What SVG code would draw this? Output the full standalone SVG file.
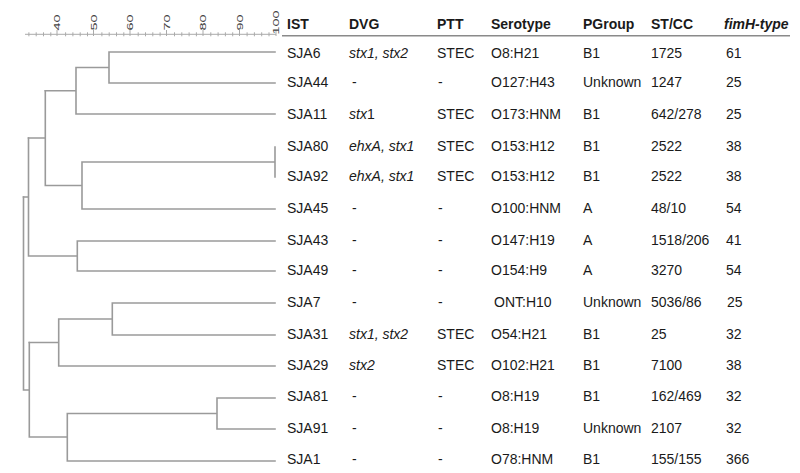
<svg xmlns="http://www.w3.org/2000/svg" width="800" height="473" viewBox="0 0 800 473">
<style>
  text { font-family: "Liberation Sans", Arial, sans-serif; font-size: 14px; fill: #1a1a1a; }
  .hd { font-weight: bold; }
  .it { font-style: italic; }
  .ax { font-size: 8.5px; fill: #444; }
  .tree { stroke: #9a9a9a; stroke-width: 1.6; fill: none; stroke-linecap: square; }
  .axis { stroke: #aaa; stroke-width: 1; fill: none; }
  .hline { stroke: #8a8a8a; stroke-width: 1.4; }
</style>
<rect width="800" height="473" fill="#fff"/>

<g id="scale">
  <line class="axis" x1="25" y1="34.3" x2="276" y2="34.3"/>
  <path class="axis" d="M28.9 32.3v4M36.2 32.3v4M43.5 32.3v4M50.8 32.3v4M65.6 32.3v4M72.9 32.3v4M80.2 32.3v4M87.5 32.3v4M101.9 32.3v4M109.2 32.3v4M116.5 32.3v4M123.8 32.3v4M138.2 32.3v4M145.5 32.3v4M152.8 32.3v4M160.1 32.3v4M174.5 32.3v4M181.8 32.3v4M189.1 32.3v4M196.4 32.3v4M210.8 32.3v4M218.1 32.3v4M225.4 32.3v4M232.7 32.3v4M247.1 32.3v4M254.4 32.3v4M261.7 32.3v4M269 32.3v4"/>
  <path class="axis" d="M57 30v6M93.5 30v6M130 30v6M166.5 30v6M203 30v6M239.5 30v6M276 30v6"/>
  <text class="ax" text-anchor="middle" transform="translate(60,22.5) rotate(-90) scale(1.7,1)">40</text>
  <text class="ax" text-anchor="middle" transform="translate(96.5,22.5) rotate(-90) scale(1.7,1)">50</text>
  <text class="ax" text-anchor="middle" transform="translate(133,22.5) rotate(-90) scale(1.7,1)">60</text>
  <text class="ax" text-anchor="middle" transform="translate(169.5,22.5) rotate(-90) scale(1.7,1)">70</text>
  <text class="ax" text-anchor="middle" transform="translate(206,22.5) rotate(-90) scale(1.7,1)">80</text>
  <text class="ax" text-anchor="middle" transform="translate(242.5,22.5) rotate(-90) scale(1.7,1)">90</text>
  <text class="ax" text-anchor="middle" transform="translate(279,22.5) rotate(-90) scale(1.7,1)">100</text>
</g>

<g id="connectors">
  <path class="tree" d="M109 52H275M109 83H275M109 52V83M76 67.5H109M76 114H275M76 67.5V114M45.3 90.75H76"/>
  <path class="tree" d="M275 147V177M82 162H275M82 209H275M82 162V209M45.3 185.5H82M45.3 90.75V185.5M28.5 138H45.3"/>
  <path class="tree" d="M77.3 241H275M77.3 271H275M77.3 241V271M28.5 256H77.3M28.5 138V256M23.5 197H28.5"/>
  <path class="tree" d="M112.3 303H275M112.3 335H275M112.3 303V335M58.7 319H112.3M58.7 366H275M58.7 319V366M29.3 342.5H58.7"/>
  <path class="tree" d="M217 398H275M217 429H275M217 398V429M67.3 413.5H217M67.3 461H275M67.3 413.5V461M29.3 437H67.3M29.3 342.5V437M23.5 390H29.3M23.5 197V390"/>
</g>

<g id="header">
  <text class="hd" x="287" y="29">IST</text>
  <text class="hd" x="349" y="29">DVG</text>
  <text class="hd" x="437" y="29">PTT</text>
  <text class="hd" x="491" y="29">Serotype</text>
  <text class="hd" x="583" y="29">PGroup</text>
  <text class="hd" x="651" y="29">ST/CC</text>
  <text class="hd it" x="724" y="29">fimH-type</text>
  <line class="hline" x1="282" y1="35.7" x2="790" y2="35.7"/>
</g>

<g id="row-SJA6"><text x="287" y="58">SJA6</text><text class="it" x="349" y="58">stx1, stx2</text><text x="437" y="58">STEC</text><text x="491" y="58">O8:H21</text><text x="583" y="58">B1</text><text x="651" y="58">1725</text><text x="726" y="58">61</text></g>
<g id="row-SJA44"><text x="287" y="87">SJA44</text><text x="352" y="87">-</text><text x="438" y="87">-</text><text x="491" y="87">O127:H43</text><text x="583" y="87">Unknown</text><text x="651" y="87">1247</text><text x="726" y="87">25</text></g>
<g id="row-SJA11"><text x="287" y="118.5">SJA11</text><text x="349" y="118.5"><tspan class="it">stx</tspan>1</text><text x="437" y="118.5">STEC</text><text x="491" y="118.5">O173:HNM</text><text x="583" y="118.5">B1</text><text x="651" y="118.5">642/278</text><text x="726" y="118.5">25</text></g>
<g id="row-SJA80"><text x="287" y="151">SJA80</text><text class="it" x="349" y="151">ehxA, stx1</text><text x="437" y="151">STEC</text><text x="491" y="151">O153:H12</text><text x="583" y="151">B1</text><text x="651" y="151">2522</text><text x="726" y="151">38</text></g>
<g id="row-SJA92"><text x="287" y="181">SJA92</text><text class="it" x="349" y="181">ehxA, stx1</text><text x="437" y="181">STEC</text><text x="491" y="181">O153:H12</text><text x="583" y="181">B1</text><text x="651" y="181">2522</text><text x="726" y="181">38</text></g>
<g id="row-SJA45"><text x="287" y="213">SJA45</text><text x="352" y="213">-</text><text x="438" y="213">-</text><text x="491" y="213">O100:HNM</text><text x="583" y="213">A</text><text x="651" y="213">48/10</text><text x="726" y="213">54</text></g>
<g id="row-SJA43"><text x="287" y="245">SJA43</text><text x="352" y="245">-</text><text x="438" y="245">-</text><text x="491" y="245">O147:H19</text><text x="583" y="245">A</text><text x="651" y="245">1518/206</text><text x="726" y="245">41</text></g>
<g id="row-SJA49"><text x="287" y="275">SJA49</text><text x="352" y="275">-</text><text x="438" y="275">-</text><text x="491" y="275">O154:H9</text><text x="583" y="275">A</text><text x="651" y="275">3270</text><text x="726" y="275">54</text></g>
<g id="row-SJA7"><text x="287" y="307">SJA7</text><text x="352" y="307">-</text><text x="438" y="307">-</text><text x="494" y="307">ONT:H10</text><text x="583" y="307">Unknown</text><text x="651" y="307">5036/86</text><text x="727" y="307">25</text></g>
<g id="row-SJA31"><text x="287" y="339">SJA31</text><text class="it" x="349" y="339">stx1, stx2</text><text x="437" y="339">STEC</text><text x="491" y="339">O54:H21</text><text x="583" y="339">B1</text><text x="651" y="339">25</text><text x="726" y="339">32</text></g>
<g id="row-SJA29"><text x="287" y="370">SJA29</text><text class="it" x="349" y="370">stx2</text><text x="437" y="370">STEC</text><text x="491" y="370">O102:H21</text><text x="583" y="370">B1</text><text x="651" y="370">7100</text><text x="726" y="370">38</text></g>
<g id="row-SJA81"><text x="287" y="401">SJA81</text><text x="352" y="401">-</text><text x="438" y="401">-</text><text x="491" y="401">O8:H19</text><text x="583" y="401">B1</text><text x="651" y="401">162/469</text><text x="726" y="401">32</text></g>
<g id="row-SJA91"><text x="287" y="433">SJA91</text><text x="352" y="433">-</text><text x="438" y="433">-</text><text x="491" y="433">O8:H19</text><text x="583" y="433">Unknown</text><text x="651" y="433">2107</text><text x="726" y="433">32</text></g>
<g id="row-SJA1"><text x="287" y="464">SJA1</text><text x="352" y="464">-</text><text x="438" y="464">-</text><text x="491" y="464">O78:HNM</text><text x="583" y="464">B1</text><text x="651" y="464">155/155</text><text x="726" y="464">366</text></g>
</svg>
